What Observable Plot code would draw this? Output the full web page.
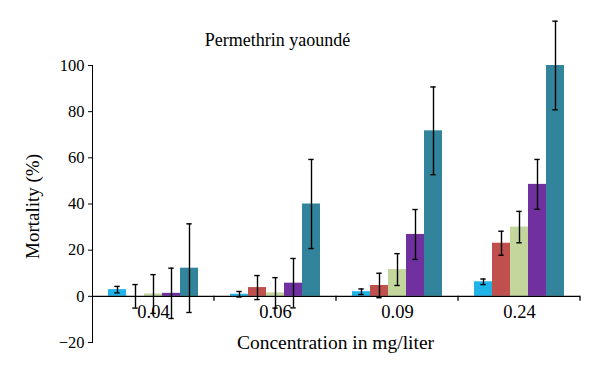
<!DOCTYPE html>
<html>
<head>
<meta charset="utf-8">
<script src="https://cdn.jsdelivr.net/npm/d3@7"></script>
<script src="https://cdn.jsdelivr.net/npm/@observablehq/plot@0.6"></script>
<style>
  html, body { margin: 0; padding: 0; background: #fff; }
  #chart { width: 600px; height: 385px; }
  #chart svg, #chart svg text { font-family: 'Liberation Serif', 'DejaVu Serif', serif !important; }
</style>
</head>
<body>
<div id="chart"></div>
<script>
// ---- data ----
const concentrations = ["0.04", "0.06", "0.09", "0.24"];
const seriesNames = ["Series 1", "Series 2", "Series 3", "Series 4", "Series 5"];
const seriesColors = ["#1fb3ea", "#c0504d", "#c3d69b", "#7030a0", "#31849b"];
const series1 = [2.9, 0.9, 2.0, 6.3];
const series2 = [0.0, 3.8, 4.7, 23.0];
const series3 = [1.0, 1.5, 11.6, 30.0];
const series4 = [1.3, 5.7, 26.8, 48.5];
const series5 = [12.2, 40.0, 71.7, 100.0];
const err1 = [1.4, 1.2, 1.2, 1.2];
const err2 = [5.1, 5.2, 5.3, 5.2];
const err3 = [8.4, 6.6, 6.9, 6.8];
const err4 = [10.9, 10.7, 10.8, 10.8];
const err5 = [19.2, 19.3, 19.0, 19.2];
const yTicks = [-20, 0, 20, 40, 60, 80, 100];
const titleText = "Permethrin yaoundé";
const xLabel = "Concentration in mg/liter";
const yLabel = "Mortality (%)";

const values = [series1, series2, series3, series4, series5];
const errors = [err1, err2, err3, err4, err5];
const rows = [];
concentrations.forEach((c, ci) => {
  seriesNames.forEach((s, si) => {
    rows.push({conc: c, series: s, value: values[si][ci], err: errors[si][ci]});
  });
});

const font = "'Liberation Serif', 'DejaVu Serif', serif";

const chart = Plot.plot({
  width: 600,
  height: 385,
  marginLeft: 91,
  marginRight: 20,
  marginTop: 65,
  marginBottom: 43,
  style: {fontFamily: font, fontSize: "16.5px", color: "#000", background: "#fff"},
  fx: {domain: concentrations, padding: 0, axis: null},
  x: {domain: seriesNames, paddingInner: 0, paddingOuter: 0.78, axis: null},
  y: {domain: [-20, 100], ticks: yTicks, tickSize: 4, tickPadding: 4, line: true, label: null},
  color: {domain: seriesNames, range: seriesColors},
  marks: [
    Plot.barY(rows, {fx: "conc", x: "series", y: "value", fill: "series"}),
    Plot.ruleY([0], {stroke: "#000", strokeWidth: 1.4}),
    Plot.ruleX(rows, {fx: "conc", x: "series", y1: d => d.value - d.err, y2: d => d.value + d.err, stroke: "#000", strokeWidth: 1.4}),
    Plot.tickY(rows, {fx: "conc", x: "series", y: d => d.value + d.err, insetLeft: 6.3, insetRight: 6.3, stroke: "#000", strokeWidth: 1.4}),
    Plot.tickY(rows, {fx: "conc", x: "series", y: d => d.value - d.err, insetLeft: 6.3, insetRight: 6.3, stroke: "#000", strokeWidth: 1.4}),
    Plot.text(concentrations, {fx: d => d, y: 0, text: d => d, frameAnchor: "middle", lineAnchor: "bottom", dy: 22, fontSize: 18.5, fill: "#000"})
  ]
});

document.getElementById("chart").appendChild(chart);

// boundary tick marks on the category axis, title and axis labels
const svg = d3.select(chart);
const fx = chart.scale("fx");
const ys = chart.scale("y");
const y0 = ys.apply(0);
concentrations.forEach(c => {
  const xb = fx.apply(c) + fx.bandwidth;
  svg.append("line").attr("x1", xb).attr("x2", xb).attr("y1", y0).attr("y2", y0 + 5)
    .attr("stroke", "#000").attr("stroke-width", 1.3);
});
svg.append("text").attr("x", 277.5).attr("y", 46).attr("text-anchor", "middle")
  .attr("font-size", 18).attr("fill", "#000").text(titleText);
svg.append("text").attr("x", (fx.range[0] + fx.range[1]) / 2).attr("y", 349).attr("text-anchor", "middle")
  .attr("font-size", 19.5).attr("fill", "#000").text(xLabel);
svg.append("text").attr("transform", `translate(38.5,${(ys.range[0] + ys.range[1]) / 2 + 3}) rotate(-90)`)
  .attr("text-anchor", "middle").attr("font-size", 19).attr("fill", "#000").text(yLabel);
</script>
</body>
</html>
